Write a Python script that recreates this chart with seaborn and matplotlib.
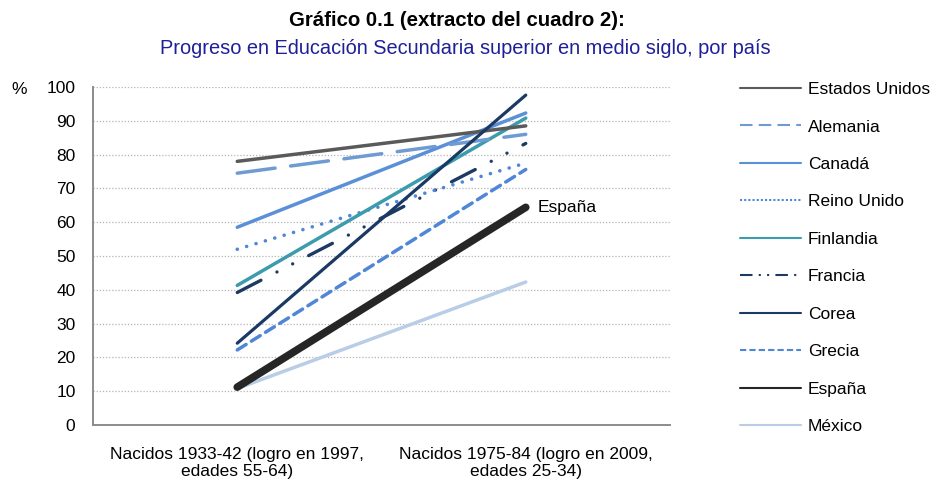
import matplotlib
matplotlib.use("Agg")
import matplotlib.pyplot as plt
from matplotlib.lines import Line2D
import seaborn as sns
import pandas as pd

categorias = ["Nacidos 1933-42 (logro en 1997,\nedades 55-64)",
              "Nacidos 1975-84 (logro en 2009,\nedades 25-34)"]
paises = ["Estados Unidos", "Alemania", "Canadá", "Reino Unido", "Finlandia",
          "Francia", "Corea", "Grecia", "España", "México"]
valores_1933_42 = [78, 74.5, 58.5, 52, 41.3, 39.2, 24.2, 22.2, 11.2, 10.8]
valores_1975_84 = [88.5, 86, 92.3, 77.5, 90.8, 83.3, 97.6, 75.6, 64.4, 42.3]
yticks = list(range(0, 101, 10))

colores = {"Estados Unidos": "#5a5a5a", "Alemania": "#6f9bd2", "Canadá": "#5b8fd8",
           "Reino Unido": "#4f87d6", "Finlandia": "#3c9bac", "Francia": "#1d3a62",
           "Corea": "#1a3a64", "Grecia": "#4f87d6", "España": "#262626",
           "México": "#b9cde6"}
estilos = {"Estados Unidos": "-", "Alemania": (0, (11, 4.5)), "Canadá": "-",
           "Reino Unido": (0, (0.01, 2.7)), "Finlandia": "-",
           "Francia": (0, (8, 5.4, 0.01, 5.3, 0.01, 5.4)), "Corea": "-",
           "Grecia": (0, (3, 1.8)), "España": "-", "México": "-"}
grosores = {"Estados Unidos": 2.5, "Alemania": 2.5, "Canadá": 2.5, "Reino Unido": 2.6,
            "Finlandia": 2.5, "Francia": 2.4, "Corea": 2.3, "Grecia": 2.5,
            "España": 5.5, "México": 2.5}
leg_estilos = {"Estados Unidos": "-", "Alemania": (0, (6, 3)), "Canadá": "-",
               "Reino Unido": (0, (1, 1)), "Finlandia": "-",
               "Francia": (0, (6, 3, 1, 3, 1, 3)), "Corea": "-",
               "Grecia": (0, (3, 1.5)), "España": "-", "México": "-"}

rows = []
for p, a, b in zip(paises, valores_1933_42, valores_1975_84):
    rows.append({"pais": p, "x": 0, "v": a})
    rows.append({"pais": p, "x": 1, "v": b})
df = pd.DataFrame(rows)

sns.set_theme(style="white")
plt.rcParams["font.family"] = ["Liberation Sans", "DejaVu Sans"]
plt.rcParams["text.color"] = "black"
plt.rcParams["xtick.color"] = "black"
plt.rcParams["ytick.color"] = "black"

fig = plt.figure(figsize=(9.33, 4.82), dpi=100)
ax = fig.add_axes([93 / 933, 1 - 425 / 482, (670 - 93) / 933, (425 - 87) / 482])

order_draw = ["México", "Grecia", "España", "Francia", "Reino Unido", "Finlandia",
              "Canadá", "Alemania", "Estados Unidos", "Corea"]
for p in order_draw:
    sub = df[df["pais"] == p]
    sns.lineplot(data=sub, x="x", y="v", ax=ax, color=colores[p], linewidth=grosores[p],
                 linestyle=estilos[p], legend=False, estimator=None,
                 solid_capstyle="round", dash_capstyle="round")

fs = 12.5
ax.set_xlim(-0.5, 1.5)
ax.set_ylim(0, 100)
ax.set_yticks(yticks)
ax.set_yticklabels([str(t) for t in yticks], fontsize=fs)
ax.set_xticks([0, 1])
ax.set_xticklabels(categorias, fontsize=fs, linespacing=1.15)
ax.set_xticks([-0.5, 0.5, 1.5], minor=True)
ax.tick_params(axis="x", which="major", length=0, pad=16)
ax.tick_params(axis="x", which="minor", length=3.6, color="#8c8c8c", width=1.2, direction="out")
ax.tick_params(axis="y", length=3.6, color="#8c8c8c", width=1.2, direction="out", pad=9)
ax.set_xlabel("")
ax.set_ylabel("")
for y in yticks[1:]:
    ax.axhline(y, color="#b5b5b5", linestyle=(0, (1, 1.5)), linewidth=0.9, zorder=0)
for s in ["top", "right"]:
    ax.spines[s].set_visible(False)
for s in ["left", "bottom"]:
    ax.spines[s].set_color("#8c8c8c")
    ax.spines[s].set_linewidth(1.4)
    ax.spines[s].set_visible(True)

ax.text(1.04, valores_1975_84[paises.index("España")], "España", fontsize=fs,
        va="center", ha="left")
fig.text(11 / 933, 1 - 89 / 482, "%", fontsize=fs, ha="left", va="center")

fig.text(457 / 933, 1 - 21 / 482, "Gráfico 0.1 (extracto del cuadro 2):", fontsize=14.7,
         fontweight="bold", ha="center", va="center")
fig.text(465 / 933, 1 - 49 / 482, "Progreso en Educación Secundaria superior en medio siglo, por país",
         fontsize=14.4, color="#1f1f99", ha="center", va="center")

handles = [Line2D([0], [0], color=colores[p], linestyle=leg_estilos[p], linewidth=1.5)
           for p in paises]
fig.legend(handles, paises, loc="upper left", bbox_to_anchor=(733 / 933, 1 - 75 / 482),
           frameon=False, fontsize=fs, handlelength=3.5, handletextpad=0.4,
           labelspacing=1.285, borderaxespad=0)

fig.savefig("out.png", dpi=100)
